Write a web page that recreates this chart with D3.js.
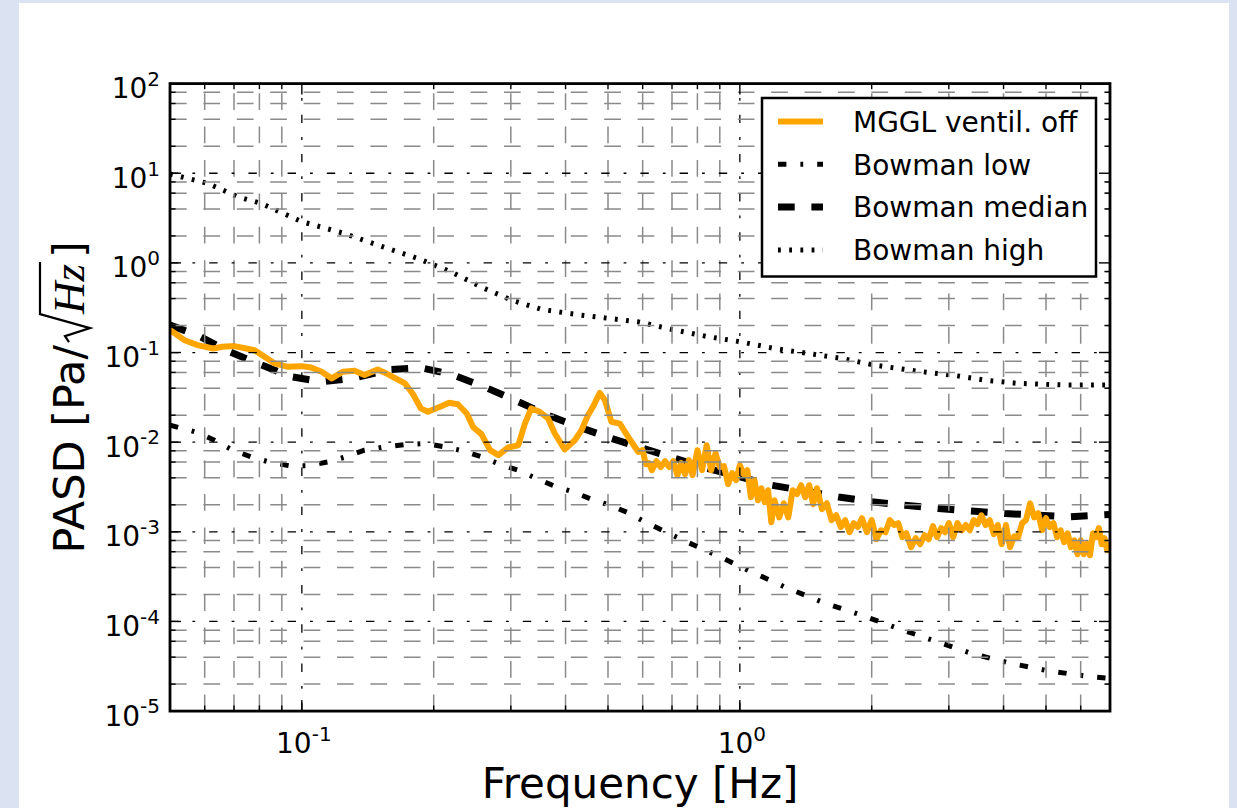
<!DOCTYPE html>
<html>
<head>
<meta charset="utf-8">
<script src="https://cdn.jsdelivr.net/npm/d3@7"></script>
<style>
  html, body { margin: 0; padding: 0; background: #dbe3f2; }
  svg { display: block; font-family: "DejaVu Sans", sans-serif; }
</style>
</head>
<body>
<svg id="chart" width="1237" height="808"></svg>
<script>
// ---- Series: frequency [Hz] and pressure amplitude spectral density [Pa/sqrt(Hz)] ----
const mgglFreq = [0.05, 0.054, 0.0578, 0.0627, 0.0659, 0.0702, 0.078, 0.0822, 0.0867, 0.0929,
  0.1, 0.105, 0.111, 0.117, 0.124, 0.132, 0.139, 0.149, 0.157, 0.172,
  0.179, 0.187, 0.194, 0.205, 0.217, 0.227, 0.238, 0.246, 0.257, 0.269,
  0.281, 0.296, 0.312, 0.323, 0.334, 0.349, 0.365, 0.378, 0.398, 0.42,
  0.435, 0.45, 0.462, 0.479, 0.492, 0.509, 0.532, 0.561, 0.586,
  0.60, 0.61, 0.62, 0.63, 0.645, 0.66, 0.675, 0.69, 0.705, 0.72,
  0.735, 0.75, 0.765, 0.78, 0.80, 0.82, 0.84, 0.86, 0.88, 0.90,
  0.92, 0.94, 0.96, 0.98, 1.00, 1.02, 1.04, 1.06, 1.08, 1.10,
  1.12, 1.14, 1.16, 1.18, 1.20, 1.23, 1.26, 1.29, 1.32, 1.35,
  1.38, 1.41, 1.44, 1.47, 1.50, 1.54, 1.58, 1.62, 1.66, 1.70,
  1.74, 1.78, 1.82, 1.86, 1.90, 1.95, 2.00, 2.05, 2.10, 2.15,
  2.20, 2.25, 2.30, 2.35, 2.40, 2.46, 2.52, 2.58, 2.64, 2.70,
  2.76, 2.82, 2.88, 2.94, 3.00, 3.07, 3.14, 3.21, 3.28, 3.35,
  3.42, 3.49, 3.56, 3.64, 3.72, 3.80, 3.88, 3.96, 4.05, 4.14,
  4.23, 4.32, 4.41, 4.50, 4.60, 4.70, 4.80, 4.90, 5.00, 5.10,
  5.20, 5.30, 5.40, 5.50, 5.60, 5.70, 5.80, 5.90, 6.00, 6.10,
  6.20, 6.30, 6.40, 6.50, 6.60, 6.70, 6.80, 6.90, 7.00];
const mgglPasd = [0.178, 0.137, 0.121, 0.111, 0.116, 0.118, 0.106, 0.0895, 0.0755, 0.0692,
  0.0705, 0.0682, 0.061, 0.0514, 0.061, 0.0625, 0.056, 0.0647, 0.0574, 0.0452,
  0.0349, 0.0238, 0.0218, 0.0244, 0.0275, 0.0265, 0.0209, 0.0148, 0.0123, 0.00815,
  0.00716, 0.00873, 0.00925, 0.0161, 0.0238, 0.0218, 0.0184, 0.0125, 0.0083, 0.0105,
  0.0136, 0.02, 0.0248, 0.0355, 0.0294, 0.0169, 0.0161, 0.0107, 0.0078,
  0.00814, 0.00568, 0.00583, 0.00487, 0.00614, 0.00527, 0.00614, 0.00527, 0.00614, 0.00428,
  0.00583, 0.00439, 0.0063, 0.00428, 0.00814, 0.00487, 0.00926, 0.00487, 0.00752, 0.00527,
  0.0054, 0.0034, 0.00451, 0.00377, 0.00554, 0.00439, 0.00487, 0.00243, 0.00377, 0.00225,
  0.00306, 0.00214, 0.00291, 0.00128, 0.00225, 0.00145, 0.00208, 0.00145, 0.00291, 0.00263,
  0.00331, 0.00243, 0.00331, 0.00203, 0.00306, 0.00179, 0.00208, 0.00135, 0.00153, 0.00113,
  0.00135, 0.000988, 0.00125, 0.00113, 0.00142, 0.000988, 0.00135, 0.000826, 0.00104, 0.000988,
  0.00135, 0.00119, 0.00125, 0.00087, 0.000964, 0.000673, 0.000848, 0.000726, 0.000916, 0.000826,
  0.00116, 0.00087, 0.0011, 0.000988, 0.00125, 0.00087, 0.00125, 0.00104, 0.00119, 0.00104,
  0.00135, 0.00122, 0.00153, 0.00119, 0.00135, 0.00094, 0.00119, 0.000726, 0.00119, 0.000673,
  0.000893, 0.00087, 0.00125, 0.00135, 0.00208, 0.00145, 0.00161, 0.00104, 0.00142, 0.00113,
  0.00125, 0.00087, 0.00104, 0.000765, 0.000964, 0.000673, 0.000805, 0.000562, 0.000805, 0.000562,
  0.000743, 0.000548, 0.000964, 0.00087, 0.0011, 0.000726, 0.000848, 0.000623, 0.000743];

const lowFreq = [0.05, 0.0578, 0.0632, 0.0695, 0.0766, 0.0851, 0.0938, 0.103, 0.115, 0.126,
  0.139, 0.155, 0.172, 0.191, 0.212, 0.233, 0.257, 0.283, 0.312, 0.343,
  0.378, 0.416, 0.458, 0.505, 0.556, 0.607, 0.736, 0.885, 1.064, 1.29,
  1.56, 1.9, 2.3, 2.79, 3.38, 4.18, 5.06, 6.25, 7.0];
const lowPasd = [0.0155, 0.0128, 0.0105, 0.00815, 0.00686, 0.00593, 0.00545, 0.00545, 0.00603, 0.00686,
  0.00815, 0.00887, 0.00942, 0.00966, 0.00887, 0.008, 0.00686, 0.00568, 0.00486, 0.00394,
  0.00323, 0.00279, 0.00231, 0.00198, 0.00163, 0.00129, 0.00082, 0.000548, 0.000357, 0.000233,
  0.000161, 0.000117, 8.34e-5, 6.05e-5, 4.39e-5, 3.39e-5, 2.81e-5, 2.44e-5, 2.31e-5];

const medianFreq = [0.05, 0.0578, 0.0671, 0.0793, 0.0946, 0.111, 0.13, 0.16, 0.187, 0.219,
  0.261, 0.312, 0.365, 0.428, 0.509, 0.592, 0.711, 0.847, 1.0, 1.18,
  1.41, 1.68, 2.0, 2.38, 2.84, 3.38, 4.03, 4.81, 5.62, 7.0];
const medianPasd = [0.202, 0.156, 0.106, 0.0755, 0.0536, 0.0471, 0.0514, 0.0647, 0.0675, 0.0574,
  0.0414, 0.0282, 0.02, 0.0148, 0.011, 0.00875, 0.00658, 0.00508, 0.0041, 0.00331,
  0.00286, 0.00245, 0.00216, 0.00198, 0.00182, 0.00171, 0.0016, 0.00153, 0.00147, 0.00156];

const highFreq = [0.05, 0.061, 0.0714, 0.0807, 0.1, 0.125, 0.149, 0.184, 0.219, 0.261,
  0.301, 0.352, 0.435, 0.586, 0.711, 0.847, 1.0, 1.2, 1.43, 1.71,
  2.03, 2.55, 3.05, 3.63, 4.33, 5.62, 7.0];
const highPasd = [9.8, 7.7, 5.47, 4.61, 2.88, 2.13, 1.58, 1.12, 0.796, 0.519,
  0.385, 0.303, 0.261, 0.22, 0.178, 0.15, 0.132, 0.111, 0.0977, 0.0859,
  0.0723, 0.0619, 0.056, 0.0492, 0.0452, 0.0433, 0.0433];

// ---- Axes ----
const xDomain = [0.05, 7];
const yDomain = [1e-5, 1e2];
const xTickValues = [0.1, 1];
const xTickExps = ["-1", "0"];
const yTickValues = [1e-5, 1e-4, 1e-3, 1e-2, 1e-1, 1, 10, 100];
const yTickExps = ["-5", "-4", "-3", "-2", "-1", "0", "1", "2"];
const xMinorSubs = [2, 3, 4, 5, 6, 7, 8, 9];
const yMinorSubs = [2, 4, 6, 8];
const xTitle = "Frequency [Hz]";
const legendLabels = ["MGGL ventil. off", "Bowman low", "Bowman median", "Bowman high"];

// ---- Layout ----
const L = 170, R = 1110, T = 83.6, B = 711.1;

const svg = d3.select("#chart");
svg.append("rect").attr("x", 19).attr("y", 3).attr("width", 1210).attr("height", 805).attr("fill", "#ffffff");

const x = d3.scaleLog().domain(xDomain).range([L, R]);
const y = d3.scaleLog().domain(yDomain).range([B, T]);

svg.append("defs").append("clipPath").attr("id", "plotClip")
  .append("rect").attr("x", L).attr("y", T).attr("width", R - L).attr("height", B - T);

// ---- Data lines ----
const series = [
  { f: lowFreq, v: lowPasd, color: "#000", width: 5, dash: "8.4,14,2.8,14" },
  { f: medianFreq, v: medianPasd, color: "#000", width: 7, dash: "16.7,16.7" },
  { f: highFreq, v: highPasd, color: "#000", width: 5, dash: "2.8,8.4" },
  { f: mgglFreq, v: mgglPasd, color: "#ffa500", width: 6, dash: null }
];
const line = d3.line().x(d => x(d[0])).y(d => y(d[1]));
const dataG = svg.append("g").attr("clip-path", "url(#plotClip)");
series.forEach(s => {
  dataG.append("path")
    .datum(s.f.map((f, i) => [f, s.v[i]]))
    .attr("d", line)
    .attr("fill", "none")
    .attr("stroke", s.color)
    .attr("stroke-width", s.width)
    .attr("stroke-linejoin", "round")
    .attr("stroke-dasharray", s.dash);
});

// ---- Tick positions: decades (major) and sub-decade multiples (minor) ----
function logTicks(domain, subs) {
  const lo = Math.floor(Math.log10(domain[0])), hi = Math.ceil(Math.log10(domain[1]));
  const major = [], minor = [];
  for (let e = lo; e <= hi; e++) {
    const base = Math.pow(10, e);
    if (base >= domain[0] * 0.9999 && base <= domain[1] * 1.0001) major.push(base);
    subs.forEach(s => {
      const v = s * base;
      if (v >= domain[0] * 0.9999 && v <= domain[1] * 1.0001) minor.push(v);
    });
  }
  return { major, minor };
}
const xt = logTicks(xDomain, xMinorSubs);
const ytk = logTicks(yDomain, yMinorSubs);
const inside = (v, d) => v > d[0] * 1.0001 && v < d[1] * 0.9999;

// ---- Grid (drawn above the data lines) ----
const gridG = svg.append("g");
const gridStyle = major => ({
  stroke: major ? "#000" : "#8a8a8a",
  width: major ? 1.3 : 1.5,
  dash: major ? "8.4,14,2.8,14" : "16.7,16.7"
});
[[xt.minor, false], [xt.major, true]].forEach(([vals, major]) => {
  const st = gridStyle(major);
  vals.filter(v => inside(v, xDomain)).forEach(v => {
    gridG.append("line")
      .attr("x1", x(v)).attr("x2", x(v)).attr("y1", B).attr("y2", T)
      .attr("stroke", st.stroke).attr("stroke-width", st.width).attr("stroke-dasharray", st.dash);
  });
});
[[ytk.minor, false], [ytk.major, true]].forEach(([vals, major]) => {
  const st = gridStyle(major);
  vals.filter(v => inside(v, yDomain)).forEach(v => {
    gridG.append("line")
      .attr("x1", L).attr("x2", R).attr("y1", y(v)).attr("y2", y(v))
      .attr("stroke", st.stroke).attr("stroke-width", st.width).attr("stroke-dasharray", st.dash);
  });
});

// ---- Tick marks on all four sides, pointing inward ----
const tickG = svg.append("g").attr("stroke", "#000").attr("stroke-width", 1.4);
[[xt.major, 11], [xt.minor, 5.6]].forEach(([vals, len]) => {
  vals.forEach(v => {
    tickG.append("line").attr("x1", x(v)).attr("x2", x(v)).attr("y1", B).attr("y2", B - len);
    tickG.append("line").attr("x1", x(v)).attr("x2", x(v)).attr("y1", T).attr("y2", T + len);
  });
});
[[ytk.major, 11], [ytk.minor, 5.6]].forEach(([vals, len]) => {
  vals.forEach(v => {
    tickG.append("line").attr("x1", L).attr("x2", L + len).attr("y1", y(v)).attr("y2", y(v));
    tickG.append("line").attr("x1", R).attr("x2", R - len).attr("y1", y(v)).attr("y2", y(v));
  });
});

// ---- Frame ----
svg.append("rect").attr("x", L).attr("y", T).attr("width", R - L).attr("height", B - T)
  .attr("fill", "none").attr("stroke", "#000").attr("stroke-width", 2.8);

// ---- Tick labels (10^n) ----
function powerLabel(sel, exp) {
  sel.append("tspan").text("10");
  sel.append("tspan").attr("dy", -12.3).attr("font-size", 20).text(exp);
}
xTickValues.forEach((v, i) => {
  const t = svg.append("text").attr("x", x(v) + 2).attr("y", 753.3)
    .attr("text-anchor", "middle").attr("font-size", 28).attr("fill", "#000");
  powerLabel(t, xTickExps[i]);
});
yTickValues.forEach((v, i) => {
  const t = svg.append("text").attr("x", 160).attr("y", y(v) + 14.6)
    .attr("text-anchor", "end").attr("font-size", 28).attr("fill", "#000");
  powerLabel(t, yTickExps[i]);
});

// ---- Axis titles ----
svg.append("text").attr("x", (L + R) / 2).attr("y", 797.5)
  .attr("text-anchor", "middle").attr("font-size", 42).attr("fill", "#000").text(xTitle);

// y title: "PASD [Pa/" + radical over italic "Hz" + "]"
const yt = svg.append("g").attr("transform", `translate(84, ${(T + B) / 2}) rotate(-90)`);
const part1 = yt.append("text").attr("font-size", 43).text("PASD [Pa/");
const w1 = part1.node().getComputedTextLength();
const radW = 31;
const part2 = yt.append("text").attr("font-size", 45)
  .attr("font-family", "'Liberation Serif', serif").attr("font-style", "italic").text("Hz");
const w2 = part2.node().getComputedTextLength();
const part3 = yt.append("text").attr("font-size", 43).text("]");
const w3 = part3.node().getComputedTextLength();
const gap = 6;
const total = w1 + radW + w2 + gap + w3;
const u0 = -total / 2;
part1.attr("x", u0);
part2.attr("x", u0 + w1 + radW);
part3.attr("x", u0 + w1 + radW + w2 + gap);
const rs = u0 + w1 + 3;
yt.append("path")
  .attr("d", `M${rs},-15 L${rs + 6},-19 L${rs + 14},6 L${rs + radW - 3},-44 L${u0 + w1 + radW + w2 + 2},-44`)
  .attr("fill", "none").attr("stroke", "#000").attr("stroke-width", 2.2).attr("stroke-linejoin", "miter");

// ---- Legend ----
const lg = svg.append("g");
lg.append("rect").attr("x", 762).attr("y", 98).attr("width", 334).attr("height", 178.5)
  .attr("fill", "#fff").attr("stroke", "#000").attr("stroke-width", 2.5);
const legendOrder = [3, 0, 1, 2];
legendOrder.forEach((si, i) => {
  const s = series[si];
  const cy = 121.5 + i * 42.8;
  lg.append("line").attr("x1", 778).attr("x2", 823).attr("y1", cy).attr("y2", cy)
    .attr("stroke", s.color).attr("stroke-width", s.width).attr("stroke-dasharray", s.dash);
  lg.append("text").attr("x", 853).attr("y", cy + 10.2).attr("font-size", 28).attr("fill", "#000")
    .text(legendLabels[i]);
});
</script>
</body>
</html>
